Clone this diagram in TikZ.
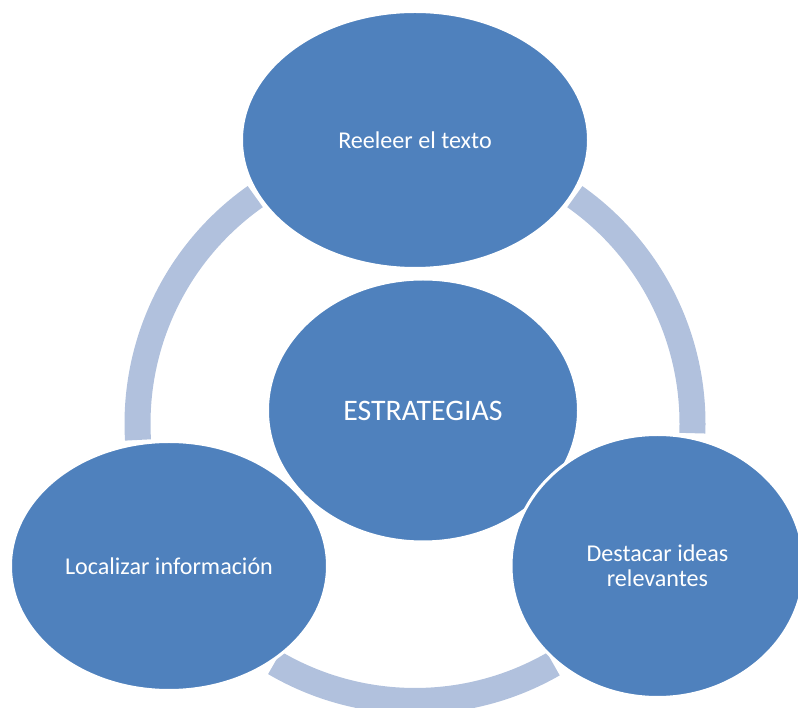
\documentclass[tikz,border=0pt]{standalone}
\usepackage{fontspec}
\setmainfont{Carlito}
\usepackage{tikz}
\usetikzlibrary{shapes.geometric}
\definecolor{nodeblue}{RGB}{79,129,189}
\definecolor{ringblue}{RGB}{177,193,221}

\begin{document}
\begin{tikzpicture}[x=1pt,y=1pt,
    blob/.style={ellipse,fill=nodeblue,draw=white,line width=3pt,inner sep=0pt,
      text=white,align=center,font=\fontsize{24.1}{25.3}\selectfont},
    ring/.style={ringblue,line width=26pt}]
          \useasboundingbox (0,0) rectangle (798,707);
          \coordinate (hub) at (415,283.5);
          % ring pieces between the outer ellipses
          \draw[ring] ([shift={(125.15:277.5)}]hub) arc[start angle=125.15,end angle=183.4,radius=277.5];
          \draw[ring] ([shift={(54.83:277.5)}]hub) arc[start angle=54.83,end angle=-2,radius=277.5];
          \draw[ring] ([shift={(239.6:277.5)}]hub) arc[start angle=239.6,end angle=299.9,radius=277.5];
          \node[blob,minimum width=311pt,minimum height=263pt,font=\fontsize{29.8}{30}\selectfont] (estrategias) at (423,296.5) {ESTRATEGIAS};
          \node[blob,minimum width=347pt,minimum height=257pt] (releer) at (415,567) {Reeleer el texto};
          \node[blob,minimum width=317pt,minimum height=249pt] (localizar) at (169,141) {Localizar información};
          \node[blob,minimum width=293pt,minimum height=263pt] (destacar) at (657.5,141) {Destacar ideas\\relevantes};
        \end{tikzpicture}
\end{document}
